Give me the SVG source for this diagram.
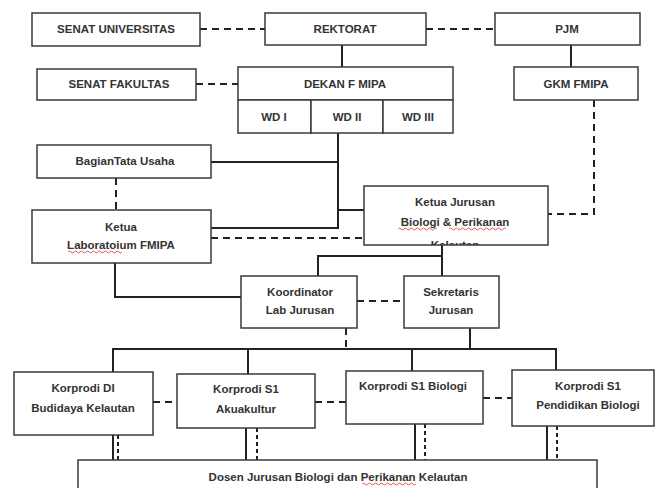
<svg xmlns="http://www.w3.org/2000/svg" width="655" height="488" viewBox="0 0 655 488">
<style>
  .box { fill: #ffffff; stroke: #3a3a3a; stroke-width: 1.5; }
  .t { font-family: "Liberation Sans", Arial, sans-serif; font-size: 11.5px; font-weight: bold; fill: #333333; text-anchor: middle; }
  .s { fill: none; stroke: #222; stroke-width: 2; }
  .d { fill: none; stroke: #222; stroke-width: 2; stroke-dasharray: 7 5; }
  .d2 { fill: none; stroke: #222; stroke-width: 2; stroke-dasharray: 4 3; }
  .sq { fill: none; stroke: #e03030; stroke-width: 0.8; }
</style>
<defs>
  <clipPath id="kjclip"><rect x="364" y="186" width="184" height="59"/></clipPath>
</defs>
<rect width="655" height="488" fill="#ffffff"/>

<g id="connectors">
  <path class="d" d="M200 29 H265"/>
  <path class="d" d="M426 29 H495"/>
  <path class="s" d="M342 45 V67"/>
  <path class="s" d="M571 45 V67"/>
  <path class="d" d="M196 84 H238"/>
  <path class="d" d="M594 100 V214 H548"/>
  <path class="s" d="M338 133 V228 H211"/>
  <path class="s" d="M211 162 H338"/>
  <path class="s" d="M338 210 H364"/>
  <path class="d" d="M116 178 V210"/>
  <path class="d" d="M211 238 H364"/>
  <path class="s" d="M115 263 V297 H241"/>
  <path class="s" d="M442 245 V276"/>
  <path class="s" d="M442 256 H318 V276"/>
  <path class="d" d="M357 301 H404"/>
  <path class="s" d="M470 328 V349"/>
  <path class="d" d="M346 328 V349"/>
  <path class="s" d="M113 372 V349 H556 V370"/>
  <path class="s" d="M248 349 V374"/>
  <path class="s" d="M412 349 V371"/>
  <path class="d" d="M153 402 H177"/>
  <path class="d" d="M315 402 H346"/>
  <path class="d" d="M483 398 H512"/>
  <path class="s" d="M113 435 V460"/>
  <path class="d2" d="M118 435 V460"/>
  <path class="s" d="M246 428 V460"/>
  <path class="d2" d="M257 428 V460"/>
  <path class="s" d="M415 424 V460"/>
  <path class="d2" d="M425 424 V460"/>
  <path class="s" d="M547 426 V460"/>
  <path class="d2" d="M557 426 V460"/>
</g>

<g id="senat-universitas">
  <rect class="box" x="32" y="13" width="168" height="33"/>
  <text class="t" x="116" y="33">SENAT UNIVERSITAS</text>
</g>
<g id="rektorat">
  <rect class="box" x="265" y="13" width="161" height="32"/>
  <text class="t" x="345" y="33">REKTORAT</text>
</g>
<g id="pjm">
  <rect class="box" x="495" y="13" width="145" height="32"/>
  <text class="t" x="567" y="33">PJM</text>
</g>
<g id="senat-fakultas">
  <rect class="box" x="37" y="69" width="159" height="31"/>
  <text class="t" x="119" y="88">SENAT FAKULTAS</text>
</g>
<g id="dekan">
  <rect class="box" x="238" y="67" width="215" height="33"/>
  <text class="t" x="345" y="88">DEKAN F MIPA</text>
</g>
<g id="wd1">
  <rect class="box" x="238" y="100" width="73" height="33"/>
  <text class="t" x="274" y="121">WD I</text>
</g>
<g id="wd2">
  <rect class="box" x="311" y="100" width="72" height="33"/>
  <text class="t" x="347" y="121">WD II</text>
</g>
<g id="wd3">
  <rect class="box" x="383" y="100" width="70" height="33"/>
  <text class="t" x="418" y="121">WD III</text>
</g>
<g id="gkm">
  <rect class="box" x="514" y="67" width="124" height="33"/>
  <text class="t" x="576" y="88">GKM FMIPA</text>
</g>
<g id="bagian-tata-usaha">
  <rect class="box" x="37" y="145" width="174" height="33"/>
  <text class="t" x="125" y="165">BagianTata Usaha</text>
</g>
<g id="ketua-lab">
  <rect class="box" x="32" y="210" width="179" height="53"/>
  <text class="t" x="121" y="231">Ketua</text>
  <text class="t" x="121" y="249">Laboratoium FMIPA</text>
  <path class="sq" d="M68 252 q1.5 -2 3 0 t3 0 t3 0 t3 0 t3 0 t3 0 t3 0 t3 0 t3 0 t3 0 t3 0 t3 0 t3 0 t3 0 t3 0 t3 0 t3 0 t3 0"/>
</g>
<g id="ketua-jurusan">
  <rect class="box" x="364" y="186" width="184" height="59"/>
  <text class="t" x="455" y="206">Ketua Jurusan</text>
  <text class="t" x="455" y="226">Biologi &amp; Perikanan</text>
  <path class="sq" d="M398 229 q1.5 -2 3 0 t3 0 t3 0 t3 0 t3 0 t3 0 t3 0 t3 0 t3 0 t3 0 t3 0 t3 0 t3 0"/>
  <path class="sq" d="M449 229 q1.5 -2 3 0 t3 0 t3 0 t3 0 t3 0 t3 0 t3 0 t3 0 t3 0 t3 0 t3 0 t3 0 t3 0 t3 0 t3 0 t3 0 t3 0 t3 0 t3 0"/>
  <text class="t" x="455" y="249" clip-path="url(#kjclip)">Kelautan</text>
</g>
<g id="koordinator-lab">
  <rect class="box" x="241" y="276" width="116" height="52"/>
  <text class="t" x="300" y="296">Koordinator</text>
  <text class="t" x="300" y="314">Lab Jurusan</text>
</g>
<g id="sekretaris">
  <rect class="box" x="404" y="276" width="95" height="52"/>
  <text class="t" x="451" y="296">Sekretaris</text>
  <text class="t" x="451" y="314">Jurusan</text>
</g>
<g id="korprodi-di">
  <rect class="box" x="14" y="372" width="139" height="63"/>
  <text class="t" x="83" y="392">Korprodi DI</text>
  <text class="t" x="83" y="412">Budidaya Kelautan</text>
</g>
<g id="korprodi-akuakultur">
  <rect class="box" x="177" y="374" width="138" height="54"/>
  <text class="t" x="246" y="393">Korprodi S1</text>
  <text class="t" x="246" y="413">Akuakultur</text>
</g>
<g id="korprodi-biologi">
  <rect class="box" x="346" y="371" width="137" height="53"/>
  <text class="t" x="413" y="390">Korprodi S1 Biologi</text>
</g>
<g id="korprodi-pendidikan">
  <rect class="box" x="512" y="370" width="142" height="56"/>
  <text class="t" x="588" y="390">Korprodi S1</text>
  <text class="t" x="588" y="409">Pendidikan Biologi</text>
</g>
<g id="dosen">
  <rect class="box" x="78" y="460" width="519" height="40"/>
  <text class="t" x="338" y="481">Dosen Jurusan Biologi dan Perikanan Kelautan</text>
  <path class="sq" d="M362 484 q1.5 -2 3 0 t3 0 t3 0 t3 0 t3 0 t3 0 t3 0 t3 0 t3 0 t3 0 t3 0 t3 0 t3 0 t3 0 t3 0 t3 0 t3 0 t3 0"/>
</g>
</svg>
